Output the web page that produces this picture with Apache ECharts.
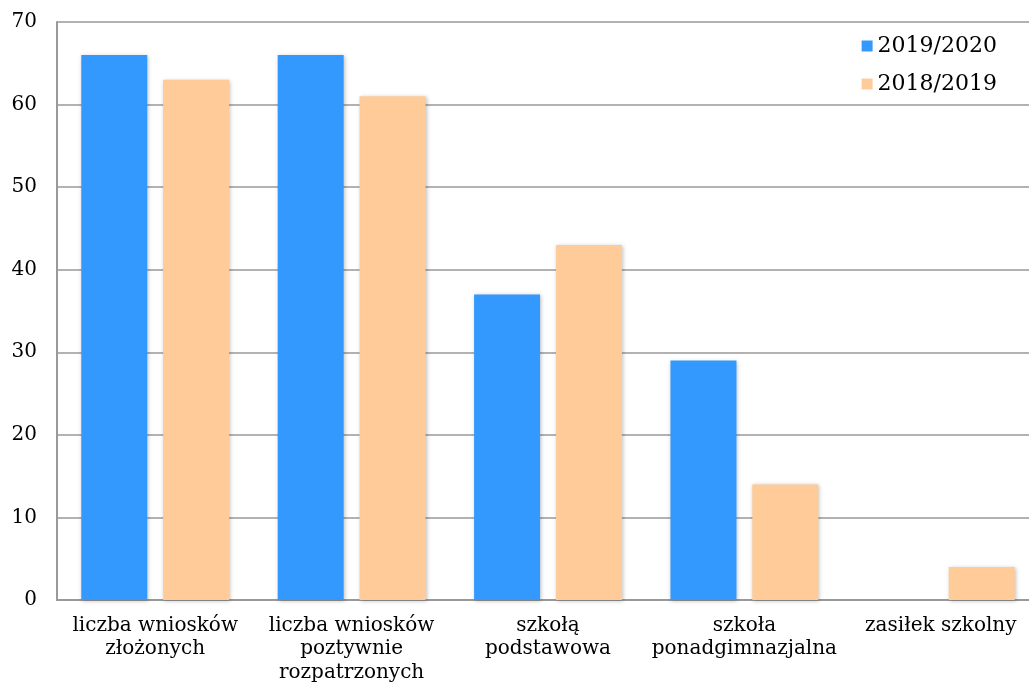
<!DOCTYPE html>
<html><head><meta charset="utf-8">
<script src="https://cdn.jsdelivr.net/npm/echarts@6/dist/echarts.min.js"></script>
<style>html,body{margin:0;padding:0;background:#fff}#c{width:1029px;height:687px}</style>
</head><body><div id="c"></div>
<script>
const categories = ['liczba wniosków\nzłożonych','liczba wniosków\npoztywnie\nrozpatrzonych','szkołą\npodstawowa','szkoła\nponadgimnazjalna','zasiłek szkolny'];
const seriesNames = ['2019/2020','2018/2019'];
const values2019_2020 = [66, 66, 37, 29, 0];
const values2018_2019 = [63, 61, 43, 14, 4];
const colors = ['#3399FF','#FFCC99'];
const FONT = 'DejaVu Serif';
const chart = echarts.init(document.getElementById('c'), null, {renderer:'canvas'});
chart.setOption({
  animation:false,
  textStyle:{fontFamily:FONT,color:'#000'},
  grid:{left:57,width:982,top:22,bottom:87,containLabel:false,outerBoundsMode:'none'},
  legend:{
    orient:'vertical', right:27, top:30, itemWidth:11, itemHeight:11, itemGap:16, icon:'rect',
    textStyle:{fontFamily:FONT,fontSize:22,color:'#000'},
    data:seriesNames
  },
  xAxis:{
    type:'category', data:categories,
    axisLine:{lineStyle:{color:'#999',width:2}},
    axisTick:{show:false},
    axisLabel:{fontFamily:FONT,fontSize:20,color:'#000',lineHeight:23.5,margin:14,interval:0}
  },
  yAxis:{
    type:'value', min:0, max:70, interval:10,
    axisLine:{show:true,lineStyle:{color:'#999',width:2}},
    axisTick:{show:false},
    splitLine:{lineStyle:{color:'#999',width:1.5}},
    axisLabel:{fontFamily:FONT,fontSize:20,color:'#000',margin:20}
  },
  series:[
    {name:seriesNames[0],type:'bar',data:values2019_2020,barWidth:66,barGap:'24%',
     itemStyle:{color:colors[0],shadowBlur:4,shadowColor:'rgba(0,0,0,0.25)',shadowOffsetX:1,shadowOffsetY:1}},
    {name:seriesNames[1],type:'bar',data:values2018_2019,barWidth:66,barGap:'24%',
     itemStyle:{color:colors[1],shadowBlur:4,shadowColor:'rgba(0,0,0,0.25)',shadowOffsetX:1,shadowOffsetY:1}}
  ]
});
</script></body></html>
